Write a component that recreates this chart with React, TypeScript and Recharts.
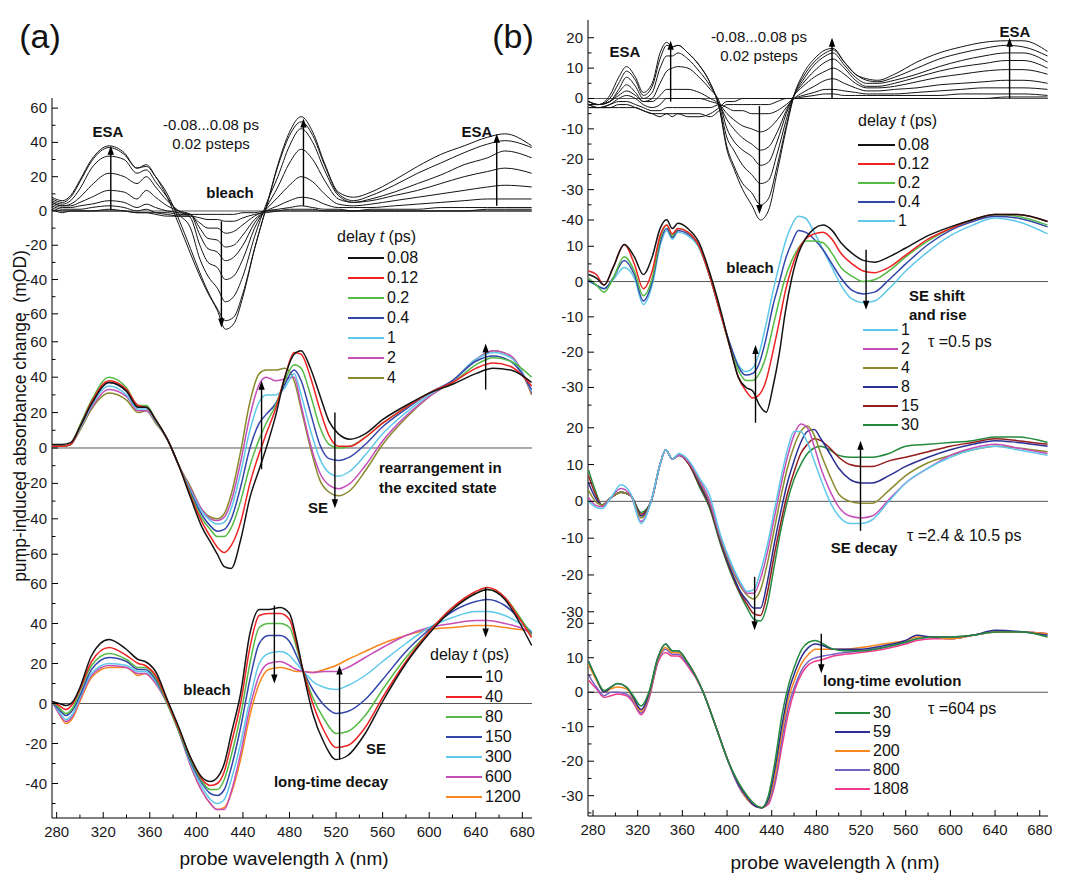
import React from "react";
import { LineChart, Line, XAxis, YAxis, ReferenceLine } from "recharts";

/* ── transient absorption spectra, panels (a) and (b) ── */

const FONT = '"Liberation Sans", Arial, Helvetica, sans-serif';

// x axis (probe wavelength, nm)
const X_TICKS = [280, 300, 320, 340, 360, 380, 400, 420, 440, 460, 480, 500, 520, 540, 560, 580, 600, 620, 640, 660, 680];
const X_MAJOR = [280, 320, 360, 400, 440, 480, 520, 560, 600, 640, 680];

// ---------- panel (a), top: -0.08 ... 0.08 ps, 0.02 ps steps ----------
const GA_TOP = [276, 285, 292, 300, 310, 325, 338, 349, 357, 365, 375, 385, 395, 403, 410, 418, 425, 432, 440, 450, 460, 470, 480, 490, 500, 510, 522, 535, 550, 570, 590, 610, 630, 650, 665, 688];
const AT_m008 = [1, -1, 0, 0, 0, 0, 0, -1, -1, -1, -1, -2, -2, -2, -2, -2, -2, -2, -1, -1, 0, 0, 0, 0, 0, 0, 0, 0, 0, 0, 0, 0, 0, 0, 0, 0];
const AT_m006 = [2, 0, 0, 0, 0, 1, 0, -1, -1, -2, -3, -3, -3, -4, -5, -5, -6, -6, -4, -2, -1, 0, 1, 1, 1, 0, 0, 0, 0, 0, 0, 0, 0, 1, 1, 1];
const AT_m004 = [3, 1, 1, 1, 2, 3, 2, 0, 1, -1, -2, -3, -3, -7, -10, -10, -13, -12, -8, -3, 0, 1, 2, 3, 2, 1, 1, 0, 1, 1, 1, 2, 2, 2, 2, 2];
const AT_m002 = [4, 2, 2, 3, 4, 6, 5, 2, 4, 2, 0, -1, -2, -10, -16, -17, -21, -20, -14, -5, 0, 3, 6, 8, 7, 4, 2, 2, 2, 3, 4, 5, 6, 7, 7, 7];
const AT_000 = [5, 3, 3, 5, 8, 12, 11, 7, 12, 8, 3, 0, -2, -14, -22, -24, -29, -27, -20, -7, 1, 8, 15, 20, 17, 10, 4, 3, 4, 6, 8, 10, 12, 14, 15, 14];
const AT_002 = [5, 3, 4, 8, 15, 22, 20, 16, 20, 14, 6, 0, -4, -20, -30, -33, -40, -38, -28, -10, 2, 14, 28, 36, 30, 18, 7, 5, 6, 9, 12, 16, 20, 23, 25, 22];
const AT_004 = [6, 4, 6, 13, 25, 32, 30, 22, 24, 17, 8, -2, -10, -28, -38, -45, -53, -50, -38, -15, 4, 20, 38, 48, 40, 24, 9, 5, 7, 11, 16, 21, 27, 31, 35, 31];
const AT_006 = [7, 5, 8, 17, 29, 37, 33, 25, 26, 20, 10, -5, -22, -36, -47, -57, -64, -62, -48, -22, 2, 26, 44, 52, 44, 27, 10, 6, 9, 15, 22, 28, 34, 39, 41, 37];
const AT_008 = [8, 6, 9, 18, 30, 38, 34, 25, 27, 20, 8, -8, -25, -38, -48, -58, -69, -66, -50, -22, 2, 27, 46, 55, 46, 28, 11, 8, 11, 18, 26, 33, 38, 43, 45, 38];

// ---------- panel (a), middle: 0.08 ... 4 ps ----------
const GA_MID = [276, 285, 292, 300, 310, 325, 340, 350, 357, 365, 375, 385, 395, 405, 412, 418, 424, 430, 438, 446, 454, 460, 468, 476, 484, 490, 498, 506, 514, 522, 532, 545, 560, 580, 600, 620, 640, 655, 670, 688];
const AM_008 = [2, 2, 3, 12, 25, 37, 32, 23, 23, 16, 5, -10, -28, -45, -53, -60, -67, -68, -52, -28, -12, 0, 18, 40, 53, 55, 45, 30, 15, 8, 5, 8, 16, 24, 31, 36, 42, 45, 44, 37];
const AM_012 = [1, 1, 2, 12, 26, 38, 33, 24, 23, 16, 5, -10, -27, -42, -50, -56, -59, -55, -42, -20, -3, 8, 22, 40, 54, 53, 40, 22, 7, 1, 1, 6, 14, 23, 31, 37, 45, 48, 46, 35];
const AM_02 = [1, 1, 2, 13, 27, 40, 34, 24, 24, 16, 5, -10, -26, -40, -46, -50, -50, -45, -30, -10, 5, 14, 24, 38, 47, 45, 30, 12, 2, 0, 1, 6, 14, 23, 31, 37, 47, 51, 49, 40];
const AM_04 = [1, 1, 2, 12, 25, 37, 32, 23, 23, 16, 5, -10, -25, -38, -44, -47, -46, -40, -22, 0, 14, 19, 25, 36, 44, 38, 20, 2, -6, -7, -5, 2, 12, 22, 31, 38, 49, 52, 49, 33];
const AM_1 = [1, 1, 2, 11, 24, 35, 30, 22, 22, 15, 5, -10, -24, -36, -41, -43, -42, -34, -14, 10, 26, 30, 30, 34, 42, 30, 10, -6, -14, -16, -13, -4, 8, 20, 30, 38, 50, 54, 51, 32];
const AM_2 = [1, 1, 2, 11, 23, 33, 29, 21, 21, 15, 5, -10, -23, -35, -40, -41, -39, -30, -8, 18, 36, 40, 38, 39, 40, 24, 2, -14, -21, -23, -20, -10, 4, 18, 29, 38, 50, 55, 52, 31];
const AM_4 = [1, 1, 2, 10, 22, 31, 27, 20, 21, 14, 5, -10, -22, -35, -39, -40, -37, -26, -2, 26, 42, 44, 44, 45, 38, 22, 0, -18, -25, -27, -24, -13, 2, 17, 29, 38, 50, 55, 52, 30];

// ---------- panel (a), bottom: 10 ... 1200 ps ----------
const GA_BOT = [276, 282, 288, 294, 300, 310, 325, 340, 350, 356, 365, 375, 385, 395, 405, 412, 418, 424, 430, 438, 446, 454, 462, 472, 480, 486, 492, 500, 510, 520, 530, 545, 560, 580, 600, 620, 640, 650, 665, 678, 688];
const AB_10 = [1, 0, -1, 1, 8, 24, 32, 27, 22, 21, 16, 2, -12, -27, -37, -39, -37, -30, -15, 5, 35, 47, 47, 48, 45, 32, 15, -5, -20, -28, -26, -15, 1, 20, 35, 47, 55, 57, 52, 40, 29];
const AB_40 = [1, -1, -3, 0, 7, 21, 28, 24, 20, 19, 14, 1, -13, -27, -38, -41, -40, -34, -20, 0, 28, 44, 45, 45, 42, 30, 16, 0, -14, -22, -21, -12, 3, 21, 36, 48, 56, 58, 53, 42, 33];
const AB_80 = [1, -2, -5, -2, 6, 19, 25, 22, 18, 18, 13, 0, -14, -28, -39, -43, -43, -38, -26, -6, 20, 38, 40, 40, 38, 28, 16, 3, -8, -15, -14, -6, 7, 23, 36, 48, 55, 57, 53, 43, 34];
const AB_150 = [1, -3, -6, -3, 4, 17, 23, 21, 17, 17, 12, 0, -14, -29, -40, -45, -46, -43, -32, -12, 12, 30, 34, 34, 31, 24, 16, 7, -1, -5, -4, 2, 12, 26, 37, 46, 51, 52, 49, 42, 35];
const AB_300 = [1, -4, -8, -5, 3, 15, 20, 19, 16, 16, 11, 0, -14, -30, -42, -48, -50, -48, -38, -20, 2, 20, 25, 26, 24, 20, 16, 11, 8, 7, 9, 14, 21, 30, 38, 43, 46, 46, 44, 40, 36];
const AB_600 = [1, -5, -9, -6, 2, 14, 19, 18, 15, 15, 10, 0, -14, -31, -44, -50, -53, -53, -44, -25, -2, 14, 20, 21, 19, 17, 16, 15.5, 16, 16, 18, 23, 28, 34, 38, 40, 41.5, 41.5, 40, 38, 35];
const AB_1200 = [1, -5, -10, -7, 1, 13, 18, 18, 14, 15, 10, 0, -14, -31, -44, -50, -53, -52, -45, -28, -6, 10, 17, 18, 17, 16, 16, 15.5, 17, 19, 22, 26, 30, 34, 37, 38, 39, 39, 38, 37, 36];

// ---------- panel (b), 1st: -0.08 ... 0.08 ps ----------
const GB_1 = [276, 285, 295, 303, 310, 318, 325, 333, 340, 346, 351, 356, 365, 375, 385, 393, 400, 406, 414, 422, 430, 437, 445, 453, 460, 468, 478, 488, 495, 505, 515, 525, 535, 550, 570, 590, 610, 630, 650, 665, 687];
const B1_m008 = [-2, -3, -3, -3, -3, -3, -4, -5, -6, -5, -6, -5, -6, -6, -5, -3, -1, -1, 0, 0, 0, 0, 0, 0, 0, 0, 0, 0, 0, 0, 0, 0, 0, 0, 0, 0, 0, 0, 0.5, 0.5, 0.5];
const B1_m006 = [-3, -3, -3, -2, -2, -3, -4, -5, -5, -5, -5, -5, -5, -5, -6, -4, -2, -2, -2, -2, -2, -2, -1, 0, 0, 0.5, 1, 1.5, 1.5, 1, 1, 1, 1, 1, 1, 1, 1.5, 1.5, 1.5, 1.5, 1];
const B1_m004 = [-3, -3, -2, -1, -1, -2, -3, -4, -4, -3, -3, -3, -3, -3, -3, -2, -3, -4, -4, -5, -5, -5, -4, -2, 0, 1, 2, 3, 3, 2.5, 2, 1.5, 1.5, 1.5, 2, 2.5, 3, 3.5, 3.5, 3.5, 3];
const B1_m002 = [-2, -3, -2, 0, 1, 0, -2, -3, -2, 0, 0, 0, 0, 0, -1, -2, -5, -7, -9, -10, -11, -10, -7, -3, 0, 2, 4, 6, 6.5, 5, 3.5, 2.5, 2.5, 3, 3.5, 4.5, 5, 5.5, 6, 6, 5];
const B1_000 = [-2, -2, -1, 1, 2.5, 1, -1, -1, 1, 3, 3, 3, 3, 2, 0, -2, -7, -10, -13, -15, -17, -16, -11, -4, 1, 4, 7, 9, 10, 8, 5, 3.5, 3.5, 4, 5.5, 7, 8, 9, 9.5, 9.5, 8];
const B1_002 = [-2, -2, -1, 2, 4.5, 2, -1, 0, 5, 9, 10, 10.5, 10, 7, 3, -1, -10, -14, -17, -19, -22, -21, -14, -5, 1, 5, 9, 12, 13, 10, 6, 4, 4, 5, 7, 9, 10.5, 11.5, 12.5, 12.5, 10];
const B1_004 = [-1, -2, -1, 3, 7, 4, 0, 2, 10, 14, 14, 15, 13, 9, 4, -2, -13, -17, -22, -25, -28, -27, -18, -7, 1, 6, 11, 14, 15, 11, 7, 5, 5, 6, 8, 10.5, 12.5, 14, 15, 15, 12];
const B1_006 = [-1, -2, 0, 5, 9, 6, 1, 4, 13, 17.5, 17, 17.5, 15, 11, 5, -3, -16, -22, -28, -31, -35, -33, -22, -9, 1, 7, 12, 15, 16, 12, 8, 6, 5.5, 7, 10, 13, 15, 16.5, 17.5, 17, 14];
const B1_008 = [-1, -2, 1, 7, 10.5, 7, 2, 5, 15, 18.5, 17, 17.5, 15, 11, 5, -3, -17, -23, -30, -35, -40, -37, -24, -10, 1, 8, 13, 16, 16.5, 12, 8, 6.5, 6, 8, 12, 15, 17, 18.5, 19, 19, 15.5];

// ---------- panel (b), 2nd: 0.08 ... 1 ps ----------
const GB_2 = [276, 283, 290, 298, 308, 317, 325, 333, 340, 346, 351, 356, 365, 375, 385, 395, 403, 410, 417, 423, 429, 435, 441, 447, 452, 458, 464, 470, 478, 486, 494, 502, 512, 522, 532, 545, 560, 580, 600, 620, 640, 660, 687];
const B2_008 = [2, 1, -1, 4, 10.5, 7, 2, 7, 15, 17.5, 15, 16.5, 15, 11, 2, -9, -19, -27, -30, -31, -35, -37, -30, -20, -9, 1, 8, 12, 15, 16, 14.5, 11, 8, 6, 5.5, 7, 9.5, 13, 15.5, 17.5, 19, 19, 17];
const B2_012 = [3, 2, -1, 4, 10.5, 5, -2, 3, 13, 16, 13.5, 15, 14, 10, 1, -10, -19, -27, -31, -33, -32, -28, -20, -11, -3, 4, 9, 12, 13.5, 14, 12, 8, 5, 3, 2.5, 4, 7.5, 12, 15, 17.5, 19, 19, 17];
const B2_02 = [1, -1, -3, 1, 7, 3, -4, 1, 12, 16, 13, 15, 14, 10, 1, -10, -19, -25, -28, -28, -26, -21, -13, -5, 1, 6, 9.5, 11.5, 11.5, 11, 8, 4, 1.5, 0, 0.5, 3, 7, 11.5, 15, 17.5, 19, 18.5, 16];
const B2_04 = [0.5, -1, -2, 1, 6, 2, -5.5, 0, 11, 15, 12.5, 14.5, 13.5, 10, 1, -10, -18, -24, -26.5, -26, -23, -16, -7, 0, 6, 11, 14.5, 14, 12, 9, 5, 1, -2.5, -3.5, -3, 0.5, 5, 10.5, 14.5, 17, 18.5, 18, 15.5];
const B2_1 = [0, -1, -2, 0.5, 4, 1, -6.5, -1, 10, 14.5, 12, 14, 13, 9.5, 1, -10, -18, -23.5, -25.5, -24.5, -20, -12, -3, 5, 11, 16, 18.5, 18, 14, 9, 4, -1, -5, -6, -5.5, -2, 3, 8.5, 13, 16, 18, 17, 13.5];

// ---------- panel (b), 3rd: 1 ... 30 ps ----------
const GB_3 = [276, 282, 288, 296, 305, 314, 323, 332, 340, 345, 351, 357, 366, 376, 384, 394, 404, 412, 418, 424, 430, 436, 442, 448, 454, 460, 466, 472, 478, 484, 492, 500, 510, 520, 530, 545, 560, 580, 600, 620, 640, 660, 687];
const B3_1 = [0, -1.5, -2, 1, 4.5, 2, -6, 0, 10, 14, 11.5, 13, 11, 6, 2, -9, -17, -22, -24.5, -24, -19, -12, -3, 6, 14, 19, 19, 16, 11, 6, 0, -4, -6, -6, -5, 0, 5, 9, 12, 14, 15, 14, 12.5];
const B3_2 = [1, -1, -1.5, 1, 3.5, 1.5, -5.5, 0, 10, 14, 11.5, 12.5, 10.5, 5.5, 0.5, -9.5, -17.5, -22.5, -25, -25, -21, -14, -5, 4, 12, 18, 21, 20, 15, 9, 3, -1.5, -4, -4.5, -4, 0.5, 5, 9, 12.5, 14.5, 15.5, 14.5, 13];
const B3_4 = [3, 0, -1, 1, 2.5, 1.5, -4.5, 0, 10, 14, 11.5, 12.5, 10.5, 5, 0, -10, -18, -23, -25.5, -26.5, -24, -17, -8, 1, 9, 15, 19, 20.5, 18, 13, 7, 2, 0, -0.5, -0.5, 3, 7, 10.5, 12.5, 14, 15, 14.5, 13.5];
const B3_8 = [5, 1, -1, 1, 2.5, 1.5, -4, 0, 10, 14, 11.5, 12.5, 10.5, 4.5, -0.5, -10.5, -19, -24.5, -27, -29, -29, -22, -12, -3, 5, 11, 16, 19, 19.5, 17, 13, 9, 6, 5, 5, 7, 9.5, 12, 14, 15.5, 16.5, 16, 15];
const B3_15 = [7, 2, -1, 1, 2.5, 1.5, -3.5, 0, 10, 14, 11.5, 12.5, 10, 4, -1, -11, -19.5, -25, -28, -30.5, -31, -25, -15, -6, 2, 8, 13, 15.5, 17, 16.5, 14.5, 12, 10, 9.5, 9.5, 11, 12, 13.5, 15, 16, 17, 16.5, 15.5];
const B3_30 = [8.5, 3, -1, 1, 2.5, 1.5, -3, 0, 10, 14, 11.5, 12.5, 10, 3.5, -1.5, -11.5, -20, -25.5, -29, -32, -32.5, -28, -18, -8, 0, 6, 10, 13, 14.5, 15, 14, 12.5, 12, 12, 12, 13, 15, 15.5, 16, 16.5, 17.5, 17.5, 16];

// ---------- panel (b), 4th: 30 ... 1808 ps ----------
const GB_4 = [276, 283, 290, 296, 302, 310, 316, 323, 330, 338, 345, 351, 356, 365, 378, 390, 401, 410, 418, 425, 431, 437, 443, 449, 455, 461, 467, 473, 479, 486, 495, 505, 520, 540, 560, 570, 585, 600, 620, 640, 665, 687];
const B4_30 = [9, 4, 0.5, 1.5, 2.5, 1.5, -1, -4, 0, 10, 14, 12, 12, 8.5, 0.5, -10, -20, -26, -30, -32.5, -33.5, -30, -20, -7, 2, 8, 12.5, 14.5, 15, 14, 12.5, 12, 12, 13, 14.5, 15.5, 16, 16, 16.5, 17.5, 17.5, 16];
const B4_59 = [9, 4, 0, 1.5, 2.5, 1.5, -1.5, -5, -0.5, 10, 14, 12, 12, 8.5, 0.5, -10, -20, -26.5, -30.5, -33, -33.5, -31, -22, -10, 0, 6, 10.5, 13, 14, 13.5, 12.5, 12.5, 12.5, 13.5, 15, 16.5, 16, 16, 16.5, 18, 17.5, 16.5];
const B4_200 = [8, 3.5, 0, 1, 1.5, 1, -2, -5.5, -1, 9.5, 13, 11.5, 11.5, 8.5, 0.5, -10, -20, -26.5, -31, -33, -33.5, -31.5, -24, -12, -2, 4, 8.5, 11, 12.5, 12.5, 12.5, 12.5, 13, 14, 15, 16, 16, 15.5, 16.5, 17.5, 17.5, 17];
const B4_800 = [5, 1.5, -1, 0, 0, -0.5, -2.5, -6, -1.5, 9, 12.5, 11, 11, 8, 0.5, -10, -20, -27, -31, -33, -33.5, -32, -25.5, -14, -4, 2, 6.5, 9, 10, 10.5, 11, 11.5, 12, 13, 14.5, 15.5, 16, 15.5, 16.5, 17.5, 17.5, 17];
const B4_1808 = [3.5, 1, -1.5, -1, -0.5, -1, -3, -6.5, -2, 8.5, 11.5, 10.5, 10.5, 7.5, 0.5, -10, -20, -27, -31, -33, -33.5, -32.5, -26.5, -16, -6, 1, 5.5, 8, 9, 9.5, 10.5, 11, 11.5, 12.5, 14, 15, 15.5, 15.5, 16.5, 17.5, 17.5, 17];

const COL = {
  black: "#141414",
  red: "#ee2222",
  green: "#55bb44",
  blue: "#3346aa",
  cyan: "#5ec8ea",
  magenta: "#c64eb8",
  olive: "#8a8a2c",
  orange: "#f7881e",
  darkred: "#951c1c",
  dkgreen: "#238a3c",
  navy: "#2c2e92",
  purple: "#7560c4",
  pink: "#f23a8c",
};

type Series = { label: string; values: number[]; color: string; width: number };
type Arrow = { x: number; from: number; to: number };
type Sub = {
  grid: number[];
  series: Series[];
  yDomain: [number, number];
  yMajor: number[];
  yMinor: number[];
  arrows: Arrow[];
};
type Frame = { left: number; top: number; width: number; height: number; xDomain: [number, number] };

const FRAME_A: Frame = { left: 52, top: 98, width: 480, height: 720, xDomain: [276, 688.3] };
const FRAME_B: Frame = { left: 588, top: 20, width: 460, height: 796, xDomain: [275.5, 687.4] };

const blk = (label: string, values: number[]): Series => ({ label, values, color: COL.black, width: 1 });
const ser = (label: string, values: number[], color: string): Series => ({ label, values, color, width: 1.5 });

const SUBS_A: Sub[] = [
  {
    grid: GA_TOP,
    series: [
      blk("-0.08", AT_m008), blk("-0.06", AT_m006), blk("-0.04", AT_m004), blk("-0.02", AT_m002), blk("0", AT_000),
      blk("0.02", AT_002), blk("0.04", AT_004), blk("0.06", AT_006), blk("0.08", AT_008),
    ],
    yDomain: [-354.1, 65.9],
    yMajor: [60, 40, 20, 0, -20, -40, -60],
    yMinor: [50, 30, 10, -10, -30, -50],
    arrows: [
      { x: 326.5, from: 0.5, to: 38 },
      { x: 421.5, from: -6, to: -68 },
      { x: 492, from: 3, to: 54 },
      { x: 658, from: 3, to: 45 },
    ],
  },
  {
    grid: GA_MID,
    series: [
      ser("4", AM_4, COL.olive), ser("2", AM_2, COL.magenta), ser("1", AM_1, COL.cyan), ser("0.4", AM_04, COL.blue),
      ser("0.2", AM_02, COL.green), ser("0.12", AM_012, COL.red), ser("0.08", AM_008, COL.black),
    ],
    yDomain: [-209, 197.7],
    yMajor: [60, 40, 20, 0, -20, -40, -60],
    yMinor: [50, 30, 10, -10, -30, -50],
    arrows: [
      { x: 456, from: -12, to: 38 },
      { x: 519, from: 20, to: -34 },
      { x: 648.5, from: 33, to: 59 },
    ],
  },
  {
    grid: GA_BOT,
    series: [
      ser("1200", AB_1200, COL.orange), ser("600", AB_600, COL.magenta), ser("300", AB_300, COL.cyan), ser("150", AB_150, COL.blue),
      ser("80", AB_80, COL.green), ser("40", AB_40, COL.red), ser("10", AB_10, COL.black),
    ],
    yDomain: [-57.25, 302.75],
    yMajor: [60, 40, 20, 0, -20, -40],
    yMinor: [50, 30, 10, -10, -30, -50],
    arrows: [
      { x: 467, from: 49, to: 10 },
      { x: 523, from: -28, to: 19 },
      { x: 648.5, from: 58, to: 33 },
    ],
  },
];

const SUBS_B: Sub[] = [
  {
    grid: GB_1,
    series: [
      blk("-0.08", B1_m008), blk("-0.06", B1_m006), blk("-0.04", B1_m004), blk("-0.02", B1_m002), blk("0", B1_000),
      blk("0.02", B1_002), blk("0.04", B1_004), blk("0.06", B1_006), blk("0.08", B1_008),
    ],
    yDomain: [-236.2, 25.84],
    yMajor: [20, 10, 0, -10, -20, -30, -40],
    yMinor: [15, 5, -5, -15, -25, -35],
    arrows: [
      { x: 349.5, from: -1, to: 19 },
      { x: 429, from: -2.5, to: -38 },
      { x: 494, from: 0, to: 20 },
      { x: 653, from: 0, to: 20 },
    ],
  },
  {
    grid: GB_2,
    series: [
      ser("1", B2_1, COL.cyan), ser("0.4", B2_04, COL.blue), ser("0.2", B2_02, COL.green),
      ser("0.12", B2_012, COL.red), ser("0.08", B2_008, COL.black),
    ],
    yDomain: [-151.4, 74.1],
    yMajor: [10, 0, -10, -20, -30],
    yMinor: [5, -5, -15, -25, -35],
    arrows: [
      { x: 524.5, from: 9, to: -8 },
      { x: 425.5, from: -40, to: -18 },
    ],
  },
  {
    grid: GB_3,
    series: [
      ser("30", B3_30, COL.dkgreen), ser("15", B3_15, COL.darkred), ser("8", B3_8, COL.navy),
      ser("4", B3_4, COL.olive), ser("2", B3_2, COL.magenta), ser("1", B3_1, COL.cyan),
    ],
    yDomain: [-85.5, 130.8],
    yMajor: [20, 10, 0, -10, -20, -30],
    yMinor: [15, 5, -5, -15, -25],
    arrows: [
      { x: 519.5, from: -8, to: 16.5 },
      { x: 424.7, from: -20.5, to: -35 },
    ],
  },
  {
    grid: GB_4,
    series: [
      ser("1808", B4_1808, COL.pink), ser("800", B4_800, COL.purple), ser("200", B4_200, COL.orange),
      ser("59", B4_59, COL.navy), ser("30", B4_30, COL.dkgreen),
    ],
    yDomain: [-35.9, 195],
    yMajor: [20, 10, 0, -10, -20, -30],
    yMinor: [15, 5, -5, -15, -25, -35],
    arrows: [{ x: 484.4, from: 17, to: 5.5 }],
  },
];

const AXIS_W = 46;
const AXIS_H = 34;
const PAD_R = 18; // room so the last x label is not cut
const TICK_FS = 15;

const leftTick = (major: number[]) => (p: any) => {
  const v = p.payload.value;
  const big = major.includes(v);
  return (
    <g>
      <line x1={p.x} x2={p.x + (big ? 6 : 3.5)} y1={p.y} y2={p.y} stroke="#000" />
      {big && (
        <text x={p.x - 5} y={p.y + 5} textAnchor="end" fontSize={TICK_FS} fontFamily={FONT} fill="#1a1a1a">
          {v}
        </text>
      )}
    </g>
  );
};

const rightTick = (major: number[]) => (p: any) => {
  const big = major.includes(p.payload.value);
  return <line x1={p.x} x2={p.x - (big ? 6 : 3.5)} y1={p.y} y2={p.y} stroke="#000" />;
};

const bottomTick = (p: any) => {
  const v = p.payload.value;
  const big = X_MAJOR.includes(v);
  return (
    <g>
      <line x1={p.x} x2={p.x} y1={p.y} y2={p.y - (big ? 6 : 3.5)} stroke="#000" />
      {big && (
        <text x={p.x} y={p.y + 19} textAnchor="middle" fontSize={TICK_FS} fontFamily={FONT} fill="#1a1a1a">
          {v}
        </text>
      )}
    </g>
  );
};

const topTick = (p: any) => {
  const big = X_MAJOR.includes(p.payload.value);
  return <line x1={p.x} x2={p.x} y1={p.y} y2={p.y + (big ? 6 : 3.5)} stroke="#000" />;
};

const arrowShape = (p: any) => {
  const { x1, y1, x2, y2 } = p;
  const d = y2 < y1 ? -1 : 1;
  const hl = 9;
  const hw = 3.2;
  return (
    <g>
      <line x1={x1} y1={y1} x2={x2} y2={y2 - d * hl * 0.5} stroke="#000" strokeWidth={1.4} />
      <path d={`M${x2},${y2} L${x2 - hw},${y2 - d * hl} L${x2 + hw},${y2 - d * hl} Z`} fill="#000" />
    </g>
  );
};

function SubChart({ frame, sub, base }: { frame: Frame; sub: Sub; base: boolean }) {
  const data = sub.grid.map((wl, i) => {
    const row: Record<string, number> = { wl };
    sub.series.forEach((s, j) => {
      row["s" + j] = s.values[i];
    });
    return row;
  });
  const yTicks = [...sub.yMajor, ...sub.yMinor];
  const frameLine = base ? { stroke: "#000", strokeWidth: 1 } : false;
  return (
    <div style={{ position: "absolute", left: frame.left - AXIS_W, top: frame.top }}>
      <LineChart
        width={frame.width + AXIS_W + PAD_R}
        height={frame.height + AXIS_H}
        data={data}
        margin={{ top: 0, right: PAD_R, bottom: 0, left: 0 }}
        style={{ overflow: "visible" }}
      >
        <XAxis
          xAxisId="b"
          type="number"
          dataKey="wl"
          domain={frame.xDomain}
          allowDataOverflow
          ticks={X_TICKS}
          interval={0}
          height={AXIS_H}
          tickSize={0}
          tickMargin={0}
          axisLine={frameLine}
          tickLine={false}
          tick={base ? bottomTick : false}
        />
        <XAxis
          xAxisId="t"
          orientation="top"
          type="number"
          dataKey="wl"
          domain={frame.xDomain}
          allowDataOverflow
          ticks={X_TICKS}
          interval={0}
          height={0}
          tickSize={0}
          tickMargin={0}
          axisLine={frameLine}
          tickLine={false}
          tick={base ? topTick : false}
        />
        <YAxis
          yAxisId="l"
          type="number"
          domain={sub.yDomain}
          allowDataOverflow
          ticks={yTicks}
          interval={0}
          width={AXIS_W}
          tickSize={0}
          tickMargin={0}
          axisLine={frameLine}
          tickLine={false}
          tick={leftTick(sub.yMajor)}
        />
        <YAxis
          yAxisId="r"
          orientation="right"
          type="number"
          domain={sub.yDomain}
          allowDataOverflow
          ticks={yTicks}
          interval={0}
          width={0}
          tickSize={0}
          tickMargin={0}
          axisLine={frameLine}
          tickLine={false}
          tick={rightTick(sub.yMajor)}
        />
        <ReferenceLine xAxisId="b" yAxisId="l" y={0} stroke="#555" strokeWidth={1} />
        {sub.series.map((s, j) => (
          <Line
            key={s.label + j}
            xAxisId="b"
            yAxisId="l"
            type="monotone"
            dataKey={"s" + j}
            stroke={s.color}
            strokeWidth={s.width}
            dot={false}
            activeDot={false}
            isAnimationActive={false}
          />
        ))}
        {sub.arrows.map((a, k) => (
          <ReferenceLine
            key={"arr" + k}
            xAxisId="b"
            yAxisId="l"
            segment={[
              { x: a.x, y: a.from },
              { x: a.x, y: a.to },
            ]}
            shape={arrowShape}
          />
        ))}
      </LineChart>
    </div>
  );
}

function T({
  x,
  y,
  children,
  size = 15,
  bold = false,
  anchor = "middle",
}: {
  x: number;
  y: number;
  children: React.ReactNode;
  size?: number;
  bold?: boolean;
  anchor?: "start" | "middle" | "end";
}) {
  const tx = anchor === "middle" ? "-50%" : anchor === "end" ? "-100%" : "0";
  return (
    <div
      style={{
        position: "absolute",
        left: x,
        top: y,
        transform: `translate(${tx},-50%)`,
        fontSize: size,
        fontWeight: bold ? 700 : 400,
        whiteSpace: "nowrap",
        lineHeight: 1,
        fontFamily: FONT,
        color: "#111",
      }}
    >
      {children}
    </div>
  );
}

function Legend({ x, y, step, swatch, items }: { x: number; y: number; step: number; swatch: number; items: Series[] }) {
  return (
    <>
      {items.map((s, i) => (
        <React.Fragment key={s.label + i}>
          <div
            style={{
              position: "absolute",
              left: x,
              top: y + i * step - 1,
              width: swatch,
              height: 2,
              background: s.color,
            }}
          />
          <T x={x + swatch + 3} y={y + i * step} size={16} anchor="start">
            {s.label}
          </T>
        </React.Fragment>
      ))}
    </>
  );
}

const byOrder = (sub: Sub, order: string[]) => order.map((l) => sub.series.find((s) => s.label === l) as Series);

export default function App() {
  const legA1 = byOrder(SUBS_A[1], ["0.08", "0.12", "0.2", "0.4", "1", "2", "4"]);
  const legA2 = byOrder(SUBS_A[2], ["10", "40", "80", "150", "300", "600", "1200"]);
  const legB1 = byOrder(SUBS_B[1], ["0.08", "0.12", "0.2", "0.4", "1"]);
  const legB2 = byOrder(SUBS_B[2], ["1", "2", "4", "8", "15", "30"]);
  const legB3 = byOrder(SUBS_B[3], ["30", "59", "200", "800", "1808"]);
  return (
    <div
      style={{
        position: "absolute",
        left: 0,
        top: 0,
        width: 1069,
        height: 874,
        background: "#fff",
        fontFamily: FONT,
        overflow: "hidden",
      }}
    >
      {SUBS_A.map((s, i) => (
        <SubChart key={"a" + i} frame={FRAME_A} sub={s} base={i === 0} />
      ))}
      {SUBS_B.map((s, i) => (
        <SubChart key={"b" + i} frame={FRAME_B} sub={s} base={i === 0} />
      ))}

      {/* panel labels */}
      <T x={40} y={36} size={34}>(a)</T>
      <T x={513} y={36} size={34}>(b)</T>

      {/* axis titles */}
      <div
        style={{
          position: "absolute",
          left: 21,
          top: 416,
          transform: "translate(-50%,-50%) rotate(-90deg)",
          fontSize: 17.5,
          whiteSpace: "pre",
          lineHeight: 1,
          fontFamily: FONT,
          color: "#111",
        }}
      >
        {"pump-induced absorbance change  (mOD)"}
      </div>
      <T x={284} y={858} size={19}>probe wavelength λ (nm)</T>
      <T x={835} y={862} size={19}>probe wavelength λ (nm)</T>

      {/* panel (a) annotations */}
      <T x={108} y={131} bold>ESA</T>
      <T x={211} y={124}>-0.08...0.08 ps</T>
      <T x={211} y={143}>0.02 psteps</T>
      <T x={477} y={131} bold>ESA</T>
      <T x={230} y={192} bold>bleach</T>
      <T x={337} y={237} size={16} anchor="start">
        delay <i>t</i> (ps)
      </T>
      <Legend x={348} y={258} step={20} swatch={36} items={legA1} />
      <T x={379} y={467} bold anchor="start">rearrangement in</T>
      <T x={379} y={487} bold anchor="start">the excited state</T>
      <T x={318} y={507} bold>SE</T>

      <T x={207} y={689} bold>bleach</T>
      <T x={376} y={748} bold>SE</T>
      <T x={331} y={781} bold>long-time decay</T>
      <T x={430} y={655} size={16} anchor="start">
        delay <i>t</i> (ps)
      </T>
      <Legend x={446} y={677} step={20} swatch={36} items={legA2} />

      {/* panel (b) annotations */}
      <T x={625} y={51} bold>ESA</T>
      <T x={759} y={36}>-0.08...0.08 ps</T>
      <T x={759} y={55}>0.02 psteps</T>
      <T x={1015} y={31} bold>ESA</T>
      <T x={858} y={121} size={16} anchor="start">
        delay <i>t</i> (ps)
      </T>
      <Legend x={858} y={145} step={19} swatch={37} items={legB1} />
      <T x={750} y={267} bold>bleach</T>
      <T x={909} y={295} bold anchor="start">SE shift</T>
      <T x={909} y={314} bold anchor="start">and rise</T>
      <Legend x={863} y={330} step={18.9} swatch={35} items={legB2} />
      <T x={928} y={342} size={16} anchor="start">τ =0.5 ps</T>
      <T x={907} y={536} size={16} anchor="start">τ =2.4 &amp; 10.5 ps</T>
      <T x={864} y={547} bold>SE decay</T>
      <T x={823} y={680} bold anchor="start">long-time evolution</T>
      <Legend x={835} y={713} step={19} swatch={35} items={legB3} />
      <T x={928} y={709} size={16} anchor="start">τ =604 ps</T>
    </div>
  );
}
